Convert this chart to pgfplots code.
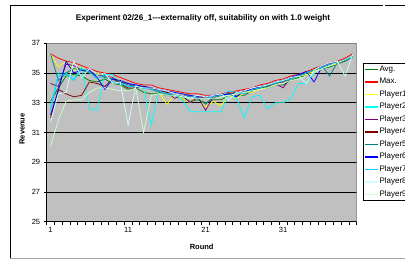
\documentclass[border=0pt]{standalone}
\usepackage{pgfplots}
\pgfplotsset{compat=1.18}
\usepackage{pgfplotstable}
\usepackage{fontspec}
\setmainfont{Liberation Sans}
\definecolor{cavg}{HTML}{008000}
\definecolor{cmax}{HTML}{FF0000}
\definecolor{cpa}{HTML}{FFFF00}
\definecolor{cpb}{HTML}{00FFFF}
\definecolor{cpc}{HTML}{800080}
\definecolor{cpd}{HTML}{800000}
\definecolor{cpe}{HTML}{008080}
\definecolor{cpf}{HTML}{0000FF}
\definecolor{cpg}{HTML}{00CCFF}
\definecolor{cph}{HTML}{CCFFFF}
\definecolor{cpi}{HTML}{CCFFCC}
\definecolor{plotbg}{HTML}{C0C0C0}
\pgfplotstableread{
r avg max p1 p2 p3 p4 p5 p6 p7 p8 p9
1 33.1 36.3 36.3 32.7 34.3 32.0 36.3 32.2 32.5 31.7 30.1
2 34.0 36.0 35.4 35.0 34.1 33.9 34.5 33.8 34.8 33.6 31.8
3 34.8 35.8 35.8 35.0 35.6 33.6 35.0 35.8 34.9 33.7 33.1
4 34.9 35.7 35.2 34.6 35.5 33.4 35.3 35.0 34.5 35.8 33.2
5 34.8 35.5 35.4 35.4 35.2 33.5 35.2 35.2 35.3 34.7 33.2
6 34.5 35.3 35.0 32.6 35.1 34.4 35.0 35.2 35.1 35.3 33.7
7 34.4 35.1 35.0 32.5 34.9 34.3 34.9 34.7 34.6 34.9 34.0
8 34.6 35.0 34.8 34.9 34.8 34.1 34.7 33.9 34.9 35.0 34.0
9 34.3 34.9 34.7 34.9 34.7 34.6 34.6 34.6 34.4 34.3 33.9
10 34.2 34.7 34.5 34.2 34.4 34.3 34.4 34.5 34.3 34.4 33.8
11 33.9 34.5 34.3 34.3 34.3 34.0 34.2 34.3 34.1 31.5 33.8
12 34.0 34.3 34.1 34.1 34.1 34.0 34.1 34.2 34.1 34.1 34.0
13 33.7 34.2 34.0 34.0 34.0 34.1 34.0 34.1 34.0 34.0 31.0
14 33.6 34.2 33.9 31.5 34.0 34.0 33.9 34.0 33.9 34.0 33.5
15 33.6 34.0 33.7 33.8 33.8 33.8 33.7 33.9 33.8 33.9 33.6
16 33.5 33.9 32.9 33.6 33.7 33.7 33.6 33.8 33.6 33.8 33.5
17 33.5 33.8 33.5 33.5 33.3 33.6 33.5 33.7 33.6 33.6 33.5
18 33.3 33.7 33.3 33.2 33.5 33.5 33.4 33.6 33.4 33.5 33.4
19 33.1 33.6 33.0 32.4 33.0 33.4 33.5 33.5 33.4 33.3 33.3
20 33.2 33.6 33.4 32.4 33.4 33.3 33.3 33.4 33.3 33.5 33.3
21 33.0 33.5 32.7 32.4 32.5 33.4 32.9 33.4 33.3 33.4 33.3
22 33.2 33.5 33.1 32.4 33.4 33.3 33.4 33.5 33.4 33.5 33.3
23 33.2 33.6 32.8 32.4 33.5 33.5 33.5 33.5 33.5 33.6 33.4
24 33.5 33.7 33.5 33.6 33.6 33.6 33.6 33.6 33.8 33.2 33.5
25 33.5 33.8 33.3 33.3 33.7 33.7 33.6 33.4 33.7 33.7 33.6
26 33.5 33.9 33.7 32.0 33.8 33.8 33.7 33.8 33.6 33.8 33.7
27 33.8 34.0 33.7 33.4 33.9 33.9 33.8 33.9 33.9 34.0 33.8
28 34.0 34.2 33.9 33.5 34.1 34.0 34.0 34.1 34.0 34.1 33.9
29 34.0 34.3 34.1 32.6 34.2 34.1 34.1 34.2 34.2 34.2 34.0
30 34.2 34.5 34.2 33.0 34.3 34.3 34.3 34.4 34.3 34.4 34.2
31 34.2 34.6 34.4 33.0 34.0 34.4 34.4 34.5 34.5 34.5 34.3
32 34.5 34.8 34.6 33.3 34.7 34.7 34.6 34.7 34.6 34.7 34.5
33 34.7 34.9 34.8 34.3 34.8 34.8 34.8 34.9 34.8 34.8 34.6
34 34.8 35.1 34.9 34.3 35.0 35.0 35.0 35.1 35.0 34.3 34.8
35 35.0 35.3 35.1 35.0 35.2 35.2 35.2 34.4 35.2 35.2 35.0
36 35.3 35.5 35.3 35.3 35.4 35.4 35.5 35.4 35.4 35.5 35.3
37 35.4 35.7 35.5 35.5 35.6 35.6 34.8 35.6 35.6 35.7 35.5
38 35.6 35.8 35.6 35.7 35.7 35.7 35.7 35.7 35.7 35.8 35.7
39 35.8 36.0 35.9 35.9 35.9 35.9 35.8 35.9 35.9 34.8 35.9
40 36.1 36.3 36.2 36.2 36.2 36.2 36.1 36.2 36.1 36.3 36.2
}\datatable
\begin{document}
\begin{tikzpicture}[x=1pt,y=1pt]
\useasboundingbox (0,0) rectangle (405,260);
\fill[white] (0,0) rectangle (405,260);
\draw[black, line width=0.8pt] (10,2) -- (10,255) -- (383,255);
\draw[black, line width=0.8pt] (385,255) -- (410,255);
\draw[gray!70, line width=0.8pt] (10,2) -- (410,2);
\node[font=\bfseries\fontsize{8.2}{9.5}\selectfont] at (203,242) {Experiment 02/26\_1-{}-{}-externality off, suitability on with 1.0 weight};
\begin{axis}[
  at={(46.7pt,38.3pt)}, anchor=south west,
  scale only axis, width=310pt, height=178.4pt,
  xmin=0.5, xmax=40.5, ymin=25, ymax=37,
  axis x line*=bottom, axis y line*=left,
  axis line style={black, line width=0.6pt},
  axis background/.style={fill=plotbg},
  xtick={0.5,1.5,...,40.5},
  xticklabels={},
  extra x ticks={1,11,21,31},
  extra x tick labels={1,11,21,31},
  extra x tick style={major tick length=0pt},
  ytick={25,27,...,37},
  tick align=outside,
  major tick length=3pt,
  tick style={black, line width=0.6pt},
  extra y ticks={27,29,31,33,35},
  extra y tick labels={},
  extra y tick style={grid=major, major tick length=0pt},
  grid style={black, line width=0.6pt},
  ticklabel style={font=\fontsize{7.5}{9}\selectfont},
  /pgf/number format/assume math mode=true,
  xticklabel style={yshift=-2pt},
  xlabel={Round}, ylabel={Revenue},
  every axis x label/.style={at={(axis description cs:0.5,-0.142)}, anchor=center, font=\bfseries\fontsize{7.5}{9}\selectfont},
  every axis y label/.style={at={(axis description cs:-0.0797,0.52)}, rotate=90, anchor=center, font=\bfseries\fontsize{7.5}{9}\selectfont},
  legend style={at={(axis description cs:1.0194,0.8896)}, anchor=north west,
    draw=black, fill=white,
    font=\fontsize{8}{9}\selectfont, inner sep=1.5pt, row sep=3.1pt,
    nodes={inner sep=0.8pt, text height=6pt, text depth=1.8pt}, legend cell align=left},
  legend image code/.code={\draw[#1, line width=1.3pt] (0pt,0pt) -- (13pt,0pt);},
  every axis plot/.append style={line width=0.75pt, mark=none},
  clip=true,
]
\draw[gray, line width=0.6pt] (rel axis cs:0,1) -- (rel axis cs:1,1) -- (rel axis cs:1,0);
\addplot[color=cavg] table[x=r,y=avg] {\datatable};
\addplot[color=cmax] table[x=r,y=max] {\datatable};
\addplot[color=cpa] table[x=r,y=p1] {\datatable};
\addplot[color=cpb] table[x=r,y=p2] {\datatable};
\addplot[color=cpc] table[x=r,y=p3] {\datatable};
\addplot[color=cpd] table[x=r,y=p4] {\datatable};
\addplot[color=cpe] table[x=r,y=p5] {\datatable};
\addplot[color=cpf] table[x=r,y=p6] {\datatable};
\addplot[color=cpg] table[x=r,y=p7] {\datatable};
\addplot[color=cph] table[x=r,y=p8] {\datatable};
\addplot[color=cpi] table[x=r,y=p9] {\datatable};
\legend{Avg.,Max.,Player1,Player2,Player3,Player4,Player5,Player6,Player7,Player8,Player9}
\end{axis}
\end{tikzpicture}
\end{document}
